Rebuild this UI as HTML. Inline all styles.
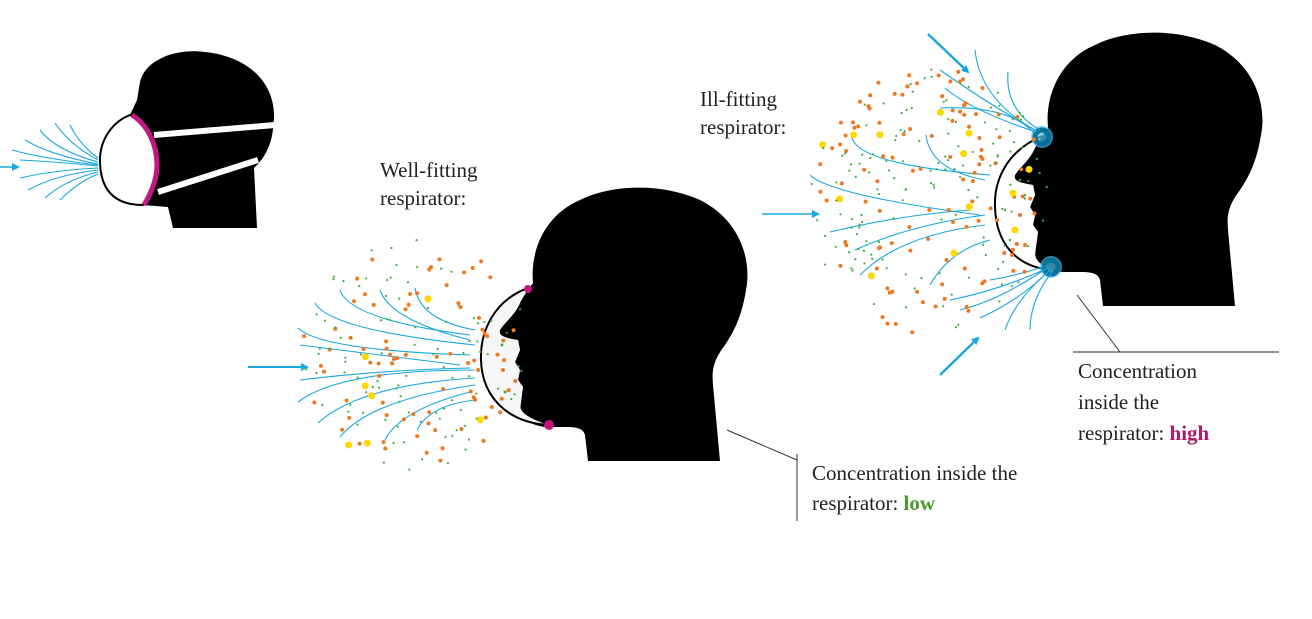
<!DOCTYPE html>
<html><head><meta charset="utf-8"><style>
html,body{margin:0;padding:0;background:#fff;}
svg{display:block;}
text{font-family:"Liberation Serif",serif;font-size:21px;fill:#222;}
</style></head><body>
<svg id="s" width="1312" height="619" viewBox="0 0 1312 619" xmlns="http://www.w3.org/2000/svg">
<defs>
<marker id="ah" markerWidth="8" markerHeight="8" refX="6" refY="4" orient="auto" markerUnits="userSpaceOnUse"><path d="M0,0 L8,4 L0,8 z" fill="#1aa7e0"/></marker>
<path id="head" d="M533,283 C530,250 545,215 580,200 C610,185 660,182 700,200 C740,220 752,260 746,290 C742,315 735,330 725,345 C712,362 712,372 713,385 L720,461 L588,461 L585,435 C583,428 576,427 565,427 L545,427 C530,425 520,418 520,410 L523,387 L518,380 L520,370 L515,362 L520,350 L518,340 C505,338 498,336 500,330 C505,322 515,315 520,303 C524,295 528,290 533,283 Z"/>
</defs>

<!-- Head 1 -->
<path d="M140,82 C145,60 175,48 205,52 C245,56 275,80 274,118 C273,140 268,155 254,168 L257,228 L173,228 L168,207 L143,205 L130,115 L137,100 Z" fill="#000"/>
<path d="M130,115 C112,122 100,140 100,160 C100,185 110,205 143,205 C152,190 158,175 157,165 C155,140 145,122 130,115 Z" fill="#fff" stroke="#000" stroke-width="2"/>
<path d="M132,115 C148,125 157,145 157,165 C157,180 150,195 144,205" fill="none" stroke="#c0187f" stroke-width="5"/>
<path d="M154,135 L275,125" stroke="#fff" stroke-width="6"/>
<path d="M158,192 L258,160" stroke="#fff" stroke-width="6"/>
<g fill="none" stroke="#1aa7e0" stroke-width="1.1">
<path d="M40,130 Q55,150 98,162"/><path d="M25,140 Q50,155 98,164"/><path d="M55,123 Q70,145 98,160"/><path d="M70,125 Q80,145 98,158"/>
<path d="M20,160 Q60,162 98,166"/><path d="M20,178 Q55,170 98,168"/><path d="M28,190 Q55,175 98,170"/><path d="M45,198 Q65,180 98,172"/><path d="M60,200 Q78,182 98,174"/><path d="M12,150 Q40,158 98,165"/>
</g>
<line x1="0" y1="167" x2="18" y2="167" stroke="#1aa7e0" stroke-width="1.5" marker-end="url(#ah)"/>

<!-- Head 2 -->
<use href="#head" fill="#000"/>
<path d="M528,288 C495,300 480,330 481,360 C482,395 505,422 548,425 C535,420 520,415 520,405 L523,387 L518,380 L520,370 L515,362 L520,350 L518,340 C505,338 498,336 500,330 C510,315 520,300 528,288 Z" fill="#f6f6f6"/>
<path d="M528,288 C495,300 480,330 481,360 C482,395 505,422 548,425" fill="none" stroke="#000" stroke-width="2"/>
<circle cx="528" cy="289" r="4" fill="#c0187f"/><circle cx="549" cy="425" r="5" fill="#c0187f"/>
<g fill="none" stroke="#1aa7e0" stroke-width="1.1">
<path d="M340,290 Q350,320 470,335"/><path d="M380,290 Q390,320 470,340"/><path d="M415,288 Q420,320 475,330"/><path d="M315,303 Q330,330 475,345"/>
<path d="M298,328 Q320,350 470,355"/><path d="M300,345 Q380,355 460,365"/>
<path d="M298,402 Q340,370 475,370"/><path d="M318,423 Q360,385 475,378"/><path d="M340,437 Q370,400 475,385"/><path d="M385,440 Q400,410 470,392"/><path d="M417,430 Q430,405 475,400"/><path d="M300,380 Q380,370 470,368"/>
</g>
<line x1="248" y1="367" x2="307" y2="367" stroke="#1aa7e0" stroke-width="2" marker-end="url(#ah)"/>
<g id="dots2"></g>

<!-- Head 3 -->
<use href="#head" fill="#000" transform="translate(515,-155)"/>
<path d="M1042,136 C1005,152 994,182 995,207 C996,242 1015,267 1052,270 C1040,265 1035,260 1035,252 L1038,232 L1033,225 L1035,215 L1030,207 L1035,195 L1033,185 C1020,183 1013,181 1015,175 C1025,160 1035,145 1042,136 Z" fill="#fff"/>
<path d="M1042,136 C1005,152 994,182 995,207 C996,242 1015,267 1052,270" fill="none" stroke="#000" stroke-width="2"/>
<circle cx="1042" cy="137" r="11" fill="#4fc3ef" opacity="0.7"/><circle cx="1042" cy="137" r="7" fill="none" stroke="#0b6f99" stroke-width="5"/>
<circle cx="1051" cy="267" r="11" fill="#4fc3ef" opacity="0.7"/><circle cx="1051" cy="267" r="7" fill="none" stroke="#0b6f99" stroke-width="5"/>
<g fill="none" stroke="#1aa7e0" stroke-width="1.1">
<path d="M975,50 Q980,100 1038,132"/><path d="M1008,72 Q1005,110 1040,130"/><path d="M945,88 Q970,110 1036,132"/><path d="M940,70 Q990,105 1035,130"/><path d="M940,108 Q1010,105 1035,134"/>
<path d="M852,138 Q860,165 990,175"/><path d="M926,135 Q930,170 985,180"/><path d="M810,175 Q830,195 980,215"/><path d="M830,232 Q900,215 970,210"/><path d="M860,275 Q900,235 985,225"/><path d="M855,250 Q910,225 985,215"/><path d="M930,285 Q950,250 990,240"/>
<path d="M990,280 Q1020,275 1048,265"/><path d="M950,300 Q1000,290 1048,268"/><path d="M980,318 Q1020,300 1050,270"/><path d="M1005,330 Q1015,300 1050,270"/><path d="M1030,330 Q1030,300 1052,272"/><path d="M960,310 Q1000,300 1047,268"/>
</g>
<line x1="762" y1="214" x2="818" y2="214" stroke="#1aa7e0" stroke-width="1.5" marker-end="url(#ah)"/>
<line x1="928" y1="34" x2="968" y2="72" stroke="#1aa7e0" stroke-width="2.5" marker-end="url(#ah)"/>
<line x1="940" y1="375" x2="978" y2="338" stroke="#1aa7e0" stroke-width="2.5" marker-end="url(#ah)"/>
<g id="dots3"></g>

<!-- leaders -->
<polyline points="727,430 797,460" fill="none" stroke="#333" stroke-width="1"/>
<line x1="797" y1="454" x2="797" y2="521" stroke="#333" stroke-width="1"/>
<polyline points="1077,295 1120,352" fill="none" stroke="#333" stroke-width="1"/>
<line x1="1073" y1="352" x2="1279" y2="352" stroke="#555" stroke-width="1.2"/>

<!-- text -->
<text x="380" y="177">Well-fitting</text>
<text x="380" y="205">respirator:</text>
<text x="700" y="106">Ill-fitting</text>
<text x="700" y="134">respirator:</text>
<text x="812" y="480">Concentration inside the</text>
<text x="812" y="510">respirator: <tspan fill="#4a9a2a" font-weight="bold">low</tspan></text>
<text x="1078" y="378">Concentration</text>
<text x="1078" y="409">inside the</text>
<text x="1078" y="440">respirator: <tspan fill="#b0186e" font-weight="bold">high</tspan></text>
</svg>
<script>
(function(){
var seed=11;function r(){seed=(seed*16807)%2147483647;return (seed-1)/2147483646;}
var NS="http://www.w3.org/2000/svg";
function dots(id,cx,cy,rx,ry,n,inside){var g=document.getElementById(id);
for(var i=0;i<n;i++){var x=cx+(r()*2-1)*rx,y=cy+(r()*2-1)*ry;
if(((x-cx)/rx)*((x-cx)/rx)+((y-cy)/ry)*((y-cy)/ry)>1)continue;
var k=r(),c=document.createElementNS(NS,"circle");
c.setAttribute("cx",x);c.setAttribute("cy",y);
if(k<0.06){c.setAttribute("r",3.5);c.setAttribute("fill","#ffd800");}
else if(k<0.5){c.setAttribute("r",2);c.setAttribute("fill","#f07820");}
else{c.setAttribute("r",1.1);c.setAttribute("fill","#3fae3f");}
g.appendChild(c);}
(inside||[]).forEach(function(p){var c=document.createElementNS(NS,"circle");c.setAttribute("cx",p[0]);c.setAttribute("cy",p[1]);c.setAttribute("r",p[2]);c.setAttribute("fill",p[3]);g.appendChild(c);});}
dots("dots2",415,355,115,115,240,[[502,345,1.5,"#3fae3f"],[503,370,2,"#f07820"],[505,392,1.5,"#3fae3f"]]);
dots("dots3",930,200,120,135,320,[[1013,193,3.5,"#ffd800"],[1015,230,3.5,"#ffd800"],[1020,215,2,"#f07820"],[1025,245,2,"#f07820"],[1010,240,1.2,"#3fae3f"],[1025,195,1.2,"#3fae3f"],[1005,210,1.2,"#3fae3f"],[1020,180,1.2,"#3fae3f"],[1012,255,2,"#f07820"]]);
})();
</script>
</body></html>
